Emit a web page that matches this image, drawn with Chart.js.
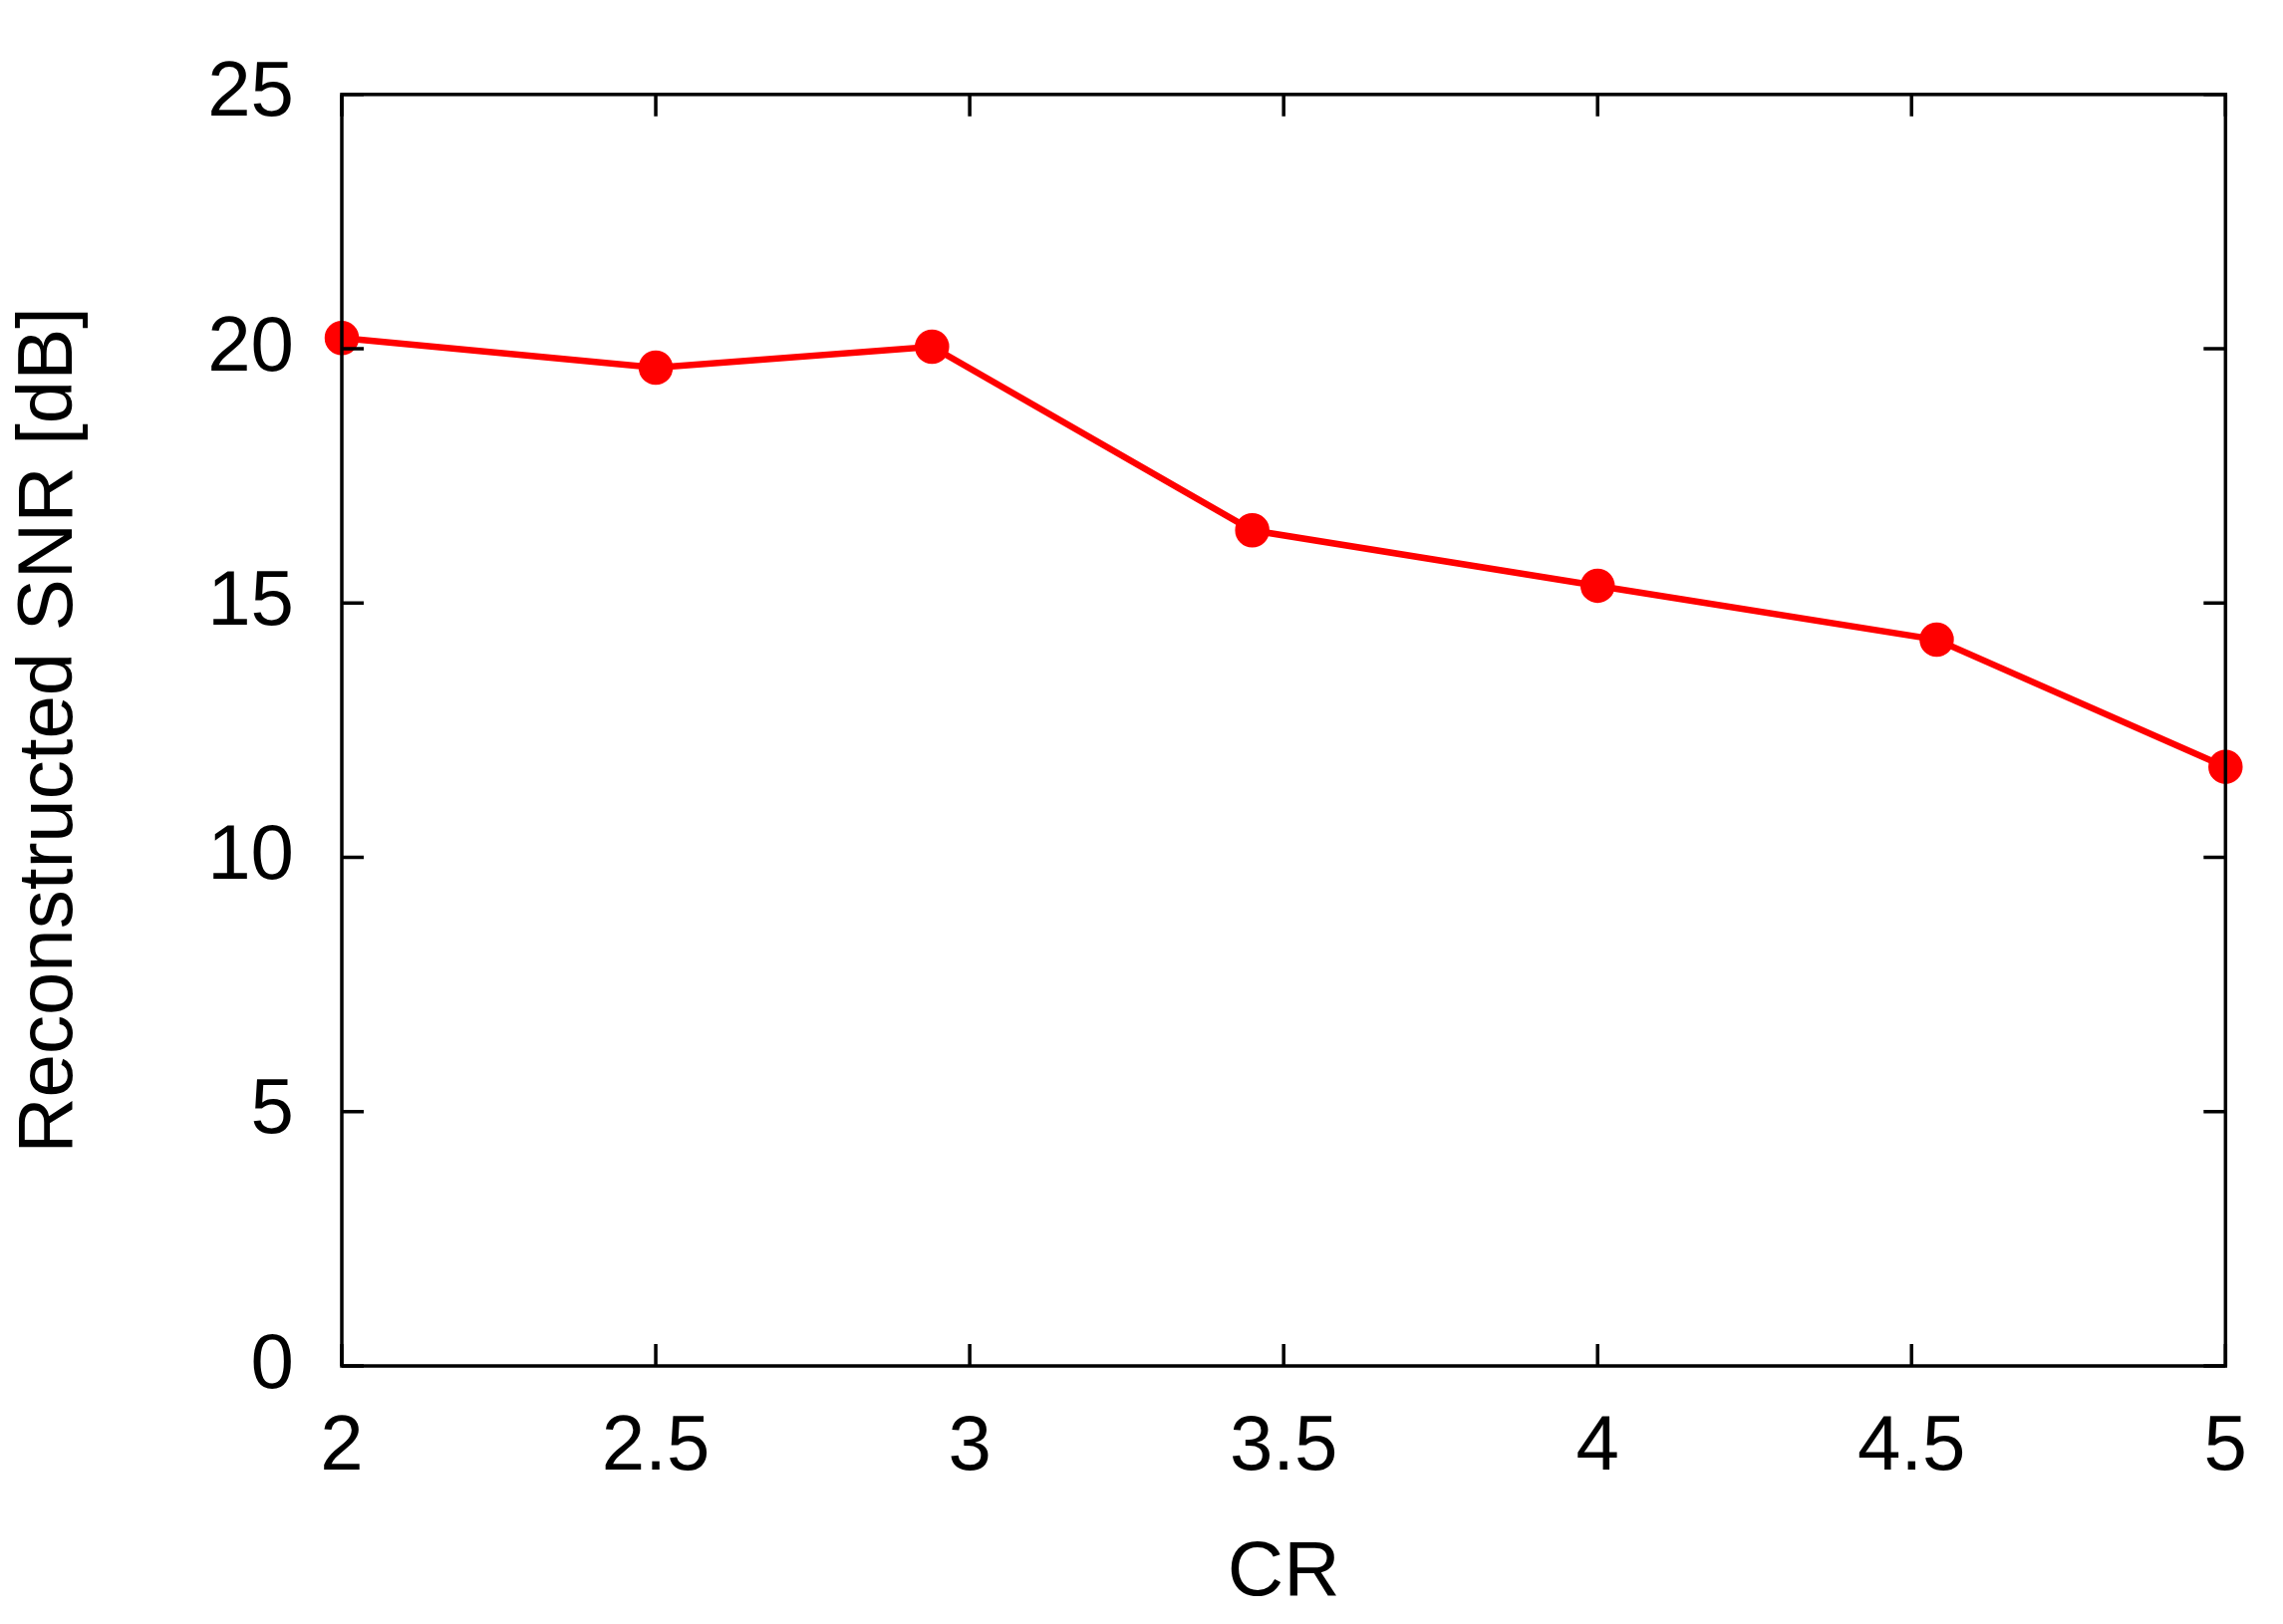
<!DOCTYPE html>
<html><head><meta charset="utf-8">
<script src="https://cdn.jsdelivr.net/npm/chart.js@4/dist/chart.umd.min.js"></script>
<style>html,body{margin:0;padding:0;background:#fff}#w{width:2291px;height:1630px}</style>
</head><body><div id="w"><canvas id="c"></canvas></div>
<script>
const crValues = [2, 2.5, 2.94, 3.45, 4.0, 4.54, 5];
const snrValues = [20.21, 19.63, 20.04, 16.43, 15.34, 14.28, 11.78];
const xTicks = [2, 2.5, 3, 3.5, 4, 4.5, 5];
const yTicks = [0, 5, 10, 15, 20, 25];
const FONT = '"Liberation Sans", Arial, sans-serif';

const frame = {
  id: 'frame',
  afterDraw(chart) {
    const {ctx, chartArea: a, scales: {x, y}} = chart;
    ctx.save();
    ctx.strokeStyle = '#000'; ctx.lineWidth = 3.5;
    ctx.strokeRect(a.left, a.top, a.right - a.left, a.bottom - a.top);
    const L = 22;
    ctx.beginPath();
    xTicks.forEach(v => { const p = x.getPixelForValue(v);
      ctx.moveTo(p, a.bottom); ctx.lineTo(p, a.bottom - L);
      ctx.moveTo(p, a.top); ctx.lineTo(p, a.top + L); });
    yTicks.forEach(v => { const p = y.getPixelForValue(v);
      ctx.moveTo(a.left, p); ctx.lineTo(a.left + L, p);
      ctx.moveTo(a.right, p); ctx.lineTo(a.right - L, p); });
    ctx.stroke();
    ctx.restore();
  }
};

new Chart(document.getElementById('c'), {
  type: 'line',
  data: { datasets: [{
    data: crValues.map((v, i) => ({x: v, y: snrValues[i]})),
    borderColor: '#ff0000', backgroundColor: '#ff0000',
    borderWidth: 6.5, pointRadius: 14, pointHoverRadius: 14, clip: false, tension: 0
  }]},
  options: {
    responsive: true, maintainAspectRatio: false, animation: false, devicePixelRatio: 1,
    layout: { padding: { top: 26, right: 20, left: 0, bottom: 0 } },
    plugins: { legend: { display: false }, tooltip: { enabled: false } },
    scales: {
      x: { type: 'linear', min: 2, max: 5,
        afterBuildTicks: s => { s.ticks = xTicks.map(v => ({value: v})); },
        afterFit: s => { s.height = 259; },
        grid: { display: false, drawTicks: false }, border: { display: false },
        ticks: { color: '#000', font: { family: FONT, size: 78 }, padding: 36, maxRotation: 0,
                 callback: v => String(v) },
        title: { display: true, text: 'CR', color: '#000', font: { family: FONT, size: 78 }, padding: { top: 14 } } },
      y: { min: 0, max: 25,
        afterBuildTicks: s => { s.ticks = yTicks.map(v => ({value: v})); },
        afterFit: s => { s.width = 343; },
        grid: { display: false, drawTicks: false }, border: { display: false },
        ticks: { color: '#000', font: { family: FONT, size: 78 }, padding: 48, callback: v => String(v) },
        title: { display: true, text: 'Reconstructed SNR [dB]', color: '#000', font: { family: FONT, size: 78 }, padding: { bottom: 6 } } }
    }
  },
  plugins: [frame]
});
</script></body></html>
